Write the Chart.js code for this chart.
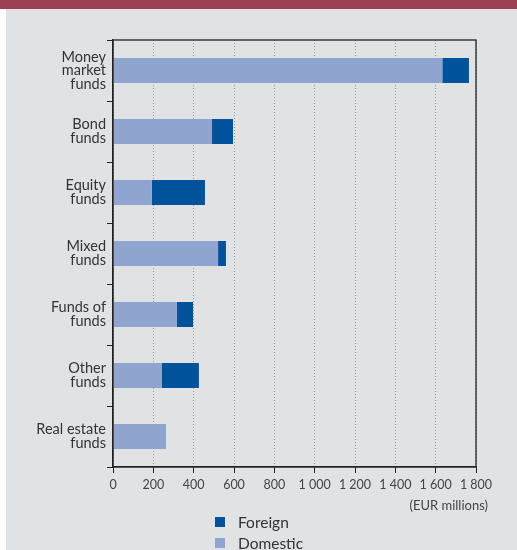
<!DOCTYPE html>
<html lang="en">
<head>
  <meta charset="UTF-8" />
  <title>Investment funds by type</title>
  <script src="https://cdn.jsdelivr.net/npm/chart.js"></script>
  <style>
    body { margin: 0; background: #fff; font-family: Lato, sans-serif; }
    .topbar { position: absolute; left: 0; top: 0; width: 517px; height: 9px; background: #9c4056; }
    .panel { position: absolute; left: 6px; top: 9px; width: 511px; height: 541px; background: #e1e2e4; }
    canvas { position: absolute; left: 0; top: 0; }
    #legend { position: absolute; left: 209px; top: 502px; color: #333; font-size: 15.5px; }
    .item { display: flex; align-items: center; height: 21px; }
    .box { width: 10px; height: 10px; margin-right: 13px; }
  </style>
</head>
<body>
  <div class="topbar"></div>
  <div class="panel">
    <canvas id="funds" width="511" height="541"></canvas>
    <div id="legend"></div>
  </div>

  <script>
    const categories = [
      ['Money', 'market', 'funds'],
      ['Bond', 'funds'],
      ['Equity', 'funds'],
      ['Mixed', 'funds'],
      ['Funds of', 'funds'],
      ['Other', 'funds'],
      ['Real estate', 'funds']
    ];
    const domestic = [1633, 491, 193, 521, 317, 243, 263];
    const foreign = [132, 104, 263, 39, 80, 183, 0];
    const xTicks = [0, 200, 400, 600, 800, 1000, 1200, 1400, 1600, 1800];
    const unitLabel = '(EUR millions)';

    const darkBlue = '#00529b';
    const lightBlue = '#8fa5d0';

    // box round the plot and the unit note under the axis
    const framePlugin = {
      id: 'frame',
      afterDraw(chart) {
        const { ctx, chartArea: a } = chart;
        ctx.save();
        ctx.strokeStyle = '#222';
        ctx.lineWidth = 1.3;
        ctx.strokeRect(a.left, a.top, a.right - a.left, a.bottom - a.top);
        ctx.fillStyle = '#444';
        ctx.font = '13px Lato, sans-serif';
        ctx.textAlign = 'right';
        ctx.textBaseline = 'middle';
        ctx.fillText(unitLabel, a.right + 12, a.bottom + 39);
        ctx.restore();
      }
    };

    const chart = new Chart(document.getElementById('funds'), {
      type: 'bar',
      data: {
        labels: categories,
        datasets: [
          { label: 'Domestic', data: domestic, backgroundColor: lightBlue },
          { label: 'Foreign', data: foreign, backgroundColor: darkBlue }
        ]
      },
      options: {
        indexAxis: 'y',
        responsive: false,
        animation: false,
        layout: { padding: { top: 31, right: 41, left: 0, bottom: 0 } },
        datasets: { bar: { barPercentage: 0.41, categoryPercentage: 1 } },
        plugins: { legend: { display: false }, tooltip: { enabled: false } },
        scales: {
          x: {
            stacked: true,
            min: 0,
            max: 1800,
            afterFit: s => { s.height = 83; },
            afterBuildTicks: s => { s.ticks = xTicks.map(v => ({ value: v })); },
            ticks: {
              color: '#444',
              padding: 4,
              maxRotation: 0,
              font: { size: 12.5, family: 'Lato, sans-serif' },
              callback: v => String(v).replace(/\B(?=(\d{3})+(?!\d))/g, ' ')
            },
            grid: {
              color: '#9a9a9a',
              lineWidth: 1,
              tickColor: '#222',
              tickLength: 6,
              tickBorderDash: []
            },
            border: { display: true, color: '#222', width: 1.3, dash: [1, 2] }
          },
          y: {
            stacked: true,
            afterFit: s => { s.width = 107; },
            ticks: {
              color: '#333',
              padding: 1,
              font: { size: 14.5, family: 'Lato, sans-serif', lineHeight: 0.94 }
            },
            grid: {
              drawOnChartArea: false,
              tickColor: '#222',
              tickLength: 6
            },
            border: { color: '#222', width: 1.3 }
          }
        }
      },
      plugins: [framePlugin]
    });

    // legend: Foreign first, as in the print version
    const legend = document.getElementById('legend');
    legend.innerHTML = chart.data.datasets.slice().reverse().map(d => `
      <div class="item"><span class="box" style="background:${d.backgroundColor}"></span>${d.label}</div>
    `).join('');
  </script>
</body>
</html>
